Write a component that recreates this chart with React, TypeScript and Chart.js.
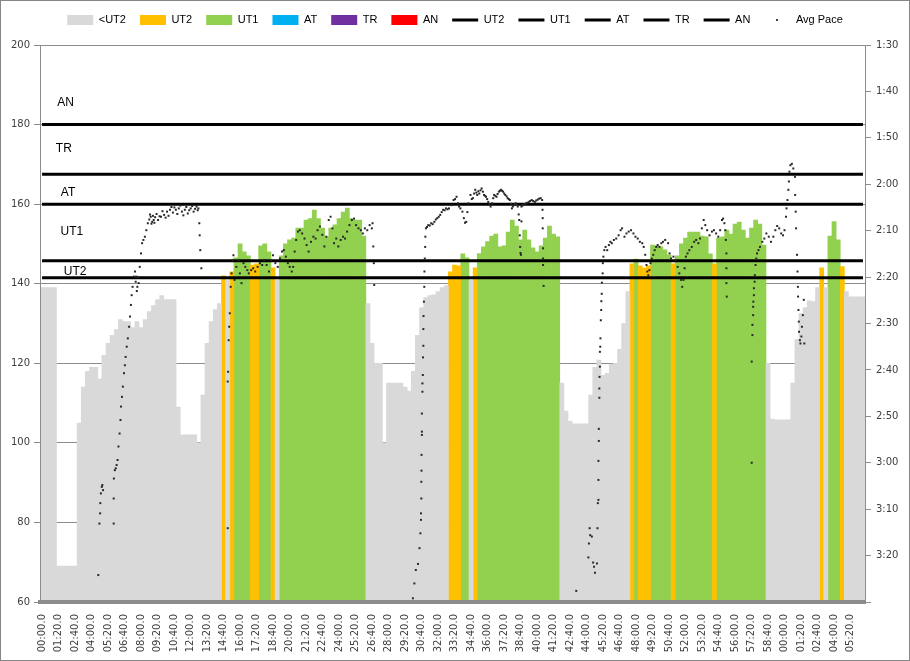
import React, { useEffect, useRef } from 'react';
import { Chart, registerables } from 'chart.js';

Chart.register(...registerables);

// ---------- data ----------
const timeLabels = ['00:00.0','01:20.0','02:40.0','04:00.0','05:20.0','06:40.0','08:00.0','09:20.0','10:40.0','12:00.0','13:20.0','14:40.0','16:00.0','17:20.0','18:40.0','20:00.0','21:20.0','22:40.0','24:00.0','25:20.0','26:40.0','28:00.0','29:20.0','30:40.0','32:00.0','33:20.0','34:40.0','36:00.0','37:20.0','38:40.0','40:00.0','41:20.0','42:40.0','44:00.0','45:20.0','46:40.0','48:00.0','49:20.0','50:40.0','52:00.0','53:20.0','54:40.0','56:00.0','57:20.0','58:40.0','00:00.0','01:20.0','02:40.0','04:00.0','05:20.0'];

const SAMPLES_PER_LABEL = 4;
const SAMPLE_SECONDS = 20;

// heart rate, one sample every 20 s
const heartRate = [
  139,139,139,139,69,69,69,69,69,105,
  114,118,119,119,116,122,125,127,128.5,131,
  130.5,130.5,129,130.5,129,131,133,134.5,136,137,
  136,136,136,109,102,102,102,102,100,112,
  125,130.5,133.5,135,142,141,143,146.5,150,148,
  147,144.7,145,149.5,150,148,144,141,147,150,
  151,151.5,154,154,156,156.4,158.5,156.4,154,151.8,
  154,154.8,156.4,158,159,156.4,156,156,152,135,
  125,120,120,100,115,115,115,115,114,113,
  118,127,134,136.5,137,137.2,138,139,139.5,143,
  144.7,144.5,147.5,146.5,141,144,147.6,149.3,150.6,152,
  152.5,149.3,149.5,153,156,154.5,151,153.5,151,149,
  148,149.5,151.5,154.5,152.5,151.8,115,108,105.5,104.8,
  104.8,104.8,104.8,112,119,120.8,117,117.5,119.8,120,
  123.5,130,138,145,146.2,144.5,143.9,144.5,149.7,149.5,
  149.3,148.5,147.2,145,147,150,151.5,153,153,153,
  152,151.8,147.5,145,151.5,151.8,153.5,152.5,155,155.5,
  153.5,151.5,154,156,155,149.7,120,106,105.8,105.8,
  105.8,105.8,115,126,132.5,134,135.7,135.5,139,144,
  139,152,155.6,151,144.3,138,136.7,136.7,136.7,136.7
];

const zoneNames = ['<UT2','UT2','UT1','AT','TR','AN'];
const zoneColors = ['#d9d9d9','#ffc000','#92d050','#00b0f0','#7030a0','#ff0000'];
const zoneLowerBounds = [0, 141.5, 145.8, 160, 167.5, 180];

const thresholdNames = ['UT2','UT1','AT','TR','AN'];
const thresholdValues = [141.5, 145.8, 160, 167.5, 180];

const zoneLabelTexts = ['AN','TR','AT','UT1','UT2'];
const zoneLabelValues = [185.6, 174.0, 163.0, 153.1, 142.9];
const zoneLabelOffsets = [25.5, 23.8, 28, 31.8, 35.2];

// average pace samples: [elapsed seconds, pace in seconds per 500 m]
const avgPace = [
  [58,204.2],[64,193.1],[68,190.9],[69,188.7],[72,186.6],[77,185.2],[80,184.8],[84,185.9],
  [142,193.1],[142,187.7],[143,183.4],[148,181.6],[153,181.2],[158,180.5],[163,179.4],[168,176.5],[174,173.7],[179,170.8],[182,167.9],[187,165.8],[192,163.6],[198,160.7],[203,159],[207,157.2],[213,155],[219,153.2],[226,150.7],[231,148.5],[236,146],[240,143.9],[245,142.1],[252,139.9],[258,138.8],[262,141],[265,139.9],[268,143],[271,142.1],[275,140],[278,141.3],[284,137.8],[291,134.9],[297,132.7],[304,132],[312,131.3],[320,129.9],[328,128.4],[336,127.6],[340,126.5],[344,127],[348,128.5],[352,128.1],[356,126.8],[360,127.7],[364,128.3],[368,127.1],[376,126.4],[384,127.7],[392,126.9],[400,127],[408,125.8],[417,126.6],[425,127.2],[433,125.9],[441,126.8],[449,125.5],[457,124.9],[465,126.1],[473,125],[481,125.5],[489,126.4],[497,125.2],[505,124.6],[514,125.9],[522,126.7],[530,125.5],[538,124.9],[546,126.3],[554,125.6],[562,125.2],[570,124.7],[578,125.9],[586,125.3],[594,124.8],[600,125.6],[604,125.2],[609,128.4],[611,131],[614,134.2],[620,138.1],
  [764,194.1],[764,162.5],[766,160.4],[769,153.6],[772,150.7],[775,147.8],[780,142.1],[785,139.2],[790,136.3],[795,135.3],[801,140.6],[811,137.8],[822,136.3],[830,139.2],[839,141.3],[850,137],[860,137.8],[871,138.5],[879,139.2],[892,138.5],[903,138.1],[914,138.8],[927,137.8],[940,137],[952,137.4],[963,136.3],[976,137.4],[989,138.8],[1000,136.3],[1011,135.3],[1024,137],[1037,137.8],[1049,136],[1060,134.5],[1070,134.2],[1081,135.6],[1092,137],[1102,137.8],[1113,138.8],[1121,137.8],[1129,134.5],[1137,132],[1147,130.2],[1157,129.9],[1170,130.6],[1183,131.7],[1194,133.1],[1205,134.5],[1218,132.4],[1231,131.3],[1243,131.7],[1254,129.9],[1267,129.1],[1280,130.9],[1291,133.4],[1302,131.3],[1315,127.7],[1325,127],[1335,129.5],[1344,132.7],[1356,131.7],[1367,133.4],[1380,132],[1393,131.3],[1404,131.7],[1415,130.2],[1428,128.8],[1441,127.7],[1453,127.4],[1464,128.8],[1477,129.5],[1490,129.9],[1501,130.6],[1512,129.5],[1525,129.9],[1538,128.8],[1550,129.5],[1554,128.4],[1558,133.4],[1561,137],[1563,141.7],
  [1774,209.2],[1782,206],[1790,203.1],[1802,201.8],[1810,198.4],[1815,195.2],[1818,192.3],[1818,190.9],[1820,187.7],[1820,184.1],[1821,181.7],[1821,178.3],[1823,174],[1823,173.3],[1823,169.4],[1826,164.7],[1826,162.9],[1828,161.1],[1829,157.3],[1831,154.8],[1831,151.2],[1832,148.4],[1834,145.3],[1836,142.1],[1837,138.8],[1839,136],[1841,133.5],[1842,131.3],[1845,129.5],[1851,129.2],[1858,128.8],[1866,128.9],[1874,128.4],[1882,128.6],[1891,128.1],[1899,127.6],[1907,127.3],[1915,127],[1923,126.6],[1931,126],[1939,125.5],[1947,125.6],[1955,125.2],[1963,125.4],[1971,125.2],[1984,124.5],[1996,123.4],[2004,123.2],[2012,122.7],[2020,124.1],[2026,124.8],[2033,125.2],[2044,125.9],[2052,127.3],[2058,128.3],[2065,128.1],[2071,126],[2077,124.1],[2088,122.3],[2095,123.2],[2101,123],[2108,122],[2114,121.2],[2120,121.8],[2125,122.3],[2131,121.5],[2136,122],[2143,121.3],[2149,120.9],[2156,121.6],[2162,122.3],[2168,122.5],[2173,122.7],[2179,123.2],[2185,123.8],[2192,124.3],[2198,124.8],[2206,124.1],[2212,123],[2217,122.3],[2224,122.5],[2230,122.7],[2236,122.1],[2243,121.6],[2249,121.4],[2254,121.2],[2260,121.4],[2266,121.6],[2272,122],[2278,122.3],[2285,122.6],[2291,123],[2297,123.2],[2303,123.4],[2309,124.2],[2314,125.2],[2319,124.8],[2324,124.5],[2330,124.3],[2335,124.1],[2340,124.4],[2346,124.8],[2351,126.5],[2354,127.7],[2357,131],[2359,133.5],[2361,134.8],[2363,135.2],
  [2366,124.8],[2366,128],[2370,124.6],[2374,124.5],[2382,124.3],[2390,124.1],[2398,124],[2406,123.8],[2414,123.6],[2422,123.4],[2430,123.6],[2439,123.8],[2447,123.5],[2455,123.3],[2463,123.1],[2471,123],[2479,123.4],[2481,125.5],[2482,127.3],[2482,129.5],[2484,133.8],[2484,136],[2484,137.4],[2487,141.9],
  [2665,207.6],
  [2731,200.4],[2734,197.4],[2738,194.1],[2741,195.6],[2750,195.9],[2757,201.5],[2762,202.4],[2767,203.7],[2778,201.7],[2781,194.1],[2783,188.7],[2786,188],[2786,183.7],[2786,179.6],[2788,175.3],[2788,172.7],[2791,166],[2791,164],[2792,161.5],[2794,159.3],[2794,156.1],[2796,155],[2797,153.2],[2799,149.3],[2801,147.1],[2802,145.2],[2804,143.6],[2805,141.2],[2809,139.2],[2810,137],[2813,135.6],[2818,134.2],[2825,133.5],[2834,134.2],[2843,133.1],[2851,132.4],[2859,132.7],[2870,132],[2883,131.7],[2896,131],[2907,129.9],[2915,129.5],[2928,131.3],[2939,130.6],[2951,130.2],[2964,129.9],[2977,130.6],[2988,131.3],[3000,131.7],[3012,132.4],[3025,132.7],[3033,133.5],[3041,135.2],[3048,137.4],[3053,138.8],[3058,139.6],[3064,138.5],[3070,137],[3077,136],[3085,135.2],[3093,134.2],[3101,133.5],[3109,133.1],[3119,133.5],[3129,132.7],[3138,132.4],[3150,132],
  [3166,132.7],[3174,134.9],[3182,136],[3195,135.6],[3206,136.3],[3218,137.8],[3227,139.2],[3237,140.6],[3243,142.1],[3250,140.6],[3256,138.1],[3263,135.6],[3272,134.9],[3282,134.2],[3295,133.5],[3308,132.4],[3319,132],[3331,132.7],[3340,131.7],[3350,129.5],[3360,127.7],[3369,128.8],[3379,129.9],[3392,131],[3405,130.2],[3416,129.9],[3428,130.6],[3440,131.3],[3450,129.9],[3460,127.7],[3466,127.4],[3473,128.4],[3478,129.9],[3481,132],[3484,134.9],[3484,138.1],[3484,141.3],[3486,144.2],
  [3622,180],[3622,158.2],[3626,152.5],[3626,150.3],[3630,148.2],[3630,146.4],[3631,145.3],[3634,143.9],[3634,142.4],[3638,141],[3639,139.6],[3643,137.4],[3647,136],[3651,134.9],[3659,134.2],[3667,133.5],[3680,132.4],[3691,131.7],[3702,130.6],[3715,131.3],[3727,132.4],[3740,131.3],[3751,129.9],[3761,129],[3772,129.5],[3783,130.6],[3793,131],[3801,129.9],[3809,127],[3812,125.2],[3817,123.4],[3822,121.2],[3825,119.4],[3828,117.3],[3833,115.9],[3841,115.6],[3849,116.6],[3858,118.4],[3859,122.3],[3862,125.9],[3864,129.5],[3869,135.2],[3872,138.8],[3874,142.1],[3875,144.2],[3877,147.1],[3879,149.6],[3880,151.8],[3885,153.6],[3888,154.3],[3893,152.8],[3896,150.7],[3901,148.2],[3906,144.9],[3909,154.3]
];

const hrTicks = { min: 60, max: 200, step: 20 };
const paceTicks = { min: 90, max: 210, step: 10 };

// ---------- helpers ----------
const zoneOf = (v: number) => {
  let z = 0;
  for (let k = 1; k < zoneLowerBounds.length; k++) if (v >= zoneLowerBounds[k]) z = k;
  return z;
};
const fmtPace = (v: number) => {
  const m = Math.floor(v / 60);
  const s = Math.round(v - m * 60);
  return `${m}:${String(s).padStart(2, '0')}`;
};

const FONT_AXIS = { family: 'DejaVu Sans', size: 10 };
const AXIS_COLOR = '#404040';
const LINE_GRAY = '#8c8c8c';

const legendSpacer = {
  id: 'legendSpacer',
  beforeInit(chart: any) {
    const legend = chart.legend;
    if (!legend) return;
    const fit = legend.fit;
    legend.fit = function () {
      fit.call(this);
      this.height += 9.5;
    };
  },
};

const zoneLabelPlugin = {
  id: 'zoneLabels',
  afterDatasetsDraw(chart: any) {
    const { ctx, chartArea, scales } = chart;
    ctx.save();
    ctx.font = '12px "Liberation Sans", Arial, sans-serif';
    ctx.fillStyle = '#000';
    ctx.textAlign = 'center';
    ctx.textBaseline = 'middle';
    zoneLabelTexts.forEach((t, i) => {
      ctx.fillText(t, chartArea.left + zoneLabelOffsets[i], scales.y.getPixelForValue(zoneLabelValues[i]));
    });
    ctx.restore();
  },
};

const framePlugin = {
  id: 'frame',
  afterDraw(chart: any) {
    const { ctx, width, height } = chart;
    ctx.save();
    ctx.strokeStyle = '#868686';
    ctx.lineWidth = 1;
    ctx.strokeRect(0.5, 0.5, width - 1, height - 1);
    ctx.restore();
  },
};

export default function App() {
  const ref = useRef<HTMLCanvasElement | null>(null);

  useEffect(() => {
    document.body.style.margin = '0';
    const canvas = ref.current;
    if (!canvas) return;

    const categories = heartRate.map((_, i) =>
      i % SAMPLES_PER_LABEL === 0 ? timeLabels[i / SAMPLES_PER_LABEL] ?? '' : ''
    );

    const dot = document.createElement('canvas');
    dot.width = 2;
    dot.height = 2;
    const dctx = dot.getContext('2d');
    if (dctx) {
      dctx.fillStyle = '#404040';
      dctx.fillRect(0, 0, 2, 2);
    }

    const zoneDatasets = zoneNames.map((name, z) => ({
      type: 'bar' as const,
      label: name,
      data: heartRate.map((v) => (zoneOf(v) === z ? v : null)),
      backgroundColor: zoneColors[z],
      borderWidth: 0,
      grouped: false,
      barPercentage: 1,
      categoryPercentage: 1,
      xAxisID: 'x',
      yAxisID: 'y',
      order: 3,
    }));

    const thresholdDatasets = thresholdNames.map((name, k) => ({
      type: 'line' as const,
      label: name,
      data: categories.map(() => thresholdValues[k]),
      borderColor: '#000',
      backgroundColor: '#000',
      borderWidth: 3,
      pointRadius: 0,
      fill: false,
      tension: 0,
      xAxisID: 'x',
      yAxisID: 'y',
      order: 2,
    }));

    const paceDataset = {
      type: 'scatter' as const,
      label: 'Avg Pace',
      data: avgPace.map(([t, p]) => ({ x: t, y: p })),
      backgroundColor: '#262626',
      borderWidth: 0,
      pointStyle: 'rect',
      pointRadius: 1.4,
      showLine: false,
      xAxisID: 'xt',
      yAxisID: 'yp',
      order: 1,
    };

    const datasets: any[] = [...zoneDatasets, ...thresholdDatasets, paceDataset];
    const half = SAMPLE_SECONDS / 2;

    const chart = new Chart(canvas, {
      type: 'bar',
      data: { labels: categories, datasets },
      options: {
        animation: false,
        responsive: false,
        events: [],
        layout: { padding: { top: 0.5, left: 0, right: 0, bottom: 0 } },
        plugins: {
          tooltip: { enabled: false },
          legend: {
            display: true,
            position: 'top',
            align: 'center',
            labels: {
              usePointStyle: true,
              pointStyleWidth: 26,
              boxWidth: 26,
              boxHeight: 10,
              padding: 14,
              color: '#333',
              font: { family: 'Liberation Sans', size: 11 },
              generateLabels: (c: any) =>
                c.data.datasets.map((ds: any, i: number) => {
                  if (ds.type === 'bar') {
                    return { text: ds.label, fillStyle: ds.backgroundColor, strokeStyle: ds.backgroundColor, lineWidth: 0, pointStyle: 'rect', hidden: false, datasetIndex: i };
                  }
                  if (ds.type === 'line') {
                    return { text: ds.label, fillStyle: '#000', strokeStyle: '#000', lineWidth: 3, pointStyle: 'line', hidden: false, datasetIndex: i };
                  }
                  return { text: ds.label, fillStyle: '#404040', strokeStyle: '#404040', lineWidth: 0, pointStyle: dot, hidden: false, datasetIndex: i };
                }),
            },
          },
        },
        scales: {
          x: {
            type: 'category',
            position: 'bottom',
            offset: true,
            grid: { display: false },
            border: { display: true, color: LINE_GRAY, width: 4, z: 1 },
            ticks: {
              autoSkip: false,
              maxRotation: 90,
              minRotation: 90,
              padding: 4,
              color: AXIS_COLOR,
              font: FONT_AXIS,
            },
            afterFit: (s: any) => { s.height = 59; },
          },
          xt: {
            type: 'linear',
            display: false,
            min: -half,
            max: heartRate.length * SAMPLE_SECONDS - half,
          },
          y: {
            type: 'linear',
            position: 'left',
            min: hrTicks.min,
            max: hrTicks.max,
            ticks: { stepSize: hrTicks.step, padding: 4, color: AXIS_COLOR, font: FONT_AXIS },
            grid: { color: LINE_GRAY, lineWidth: 1, tickLength: 6, drawTicks: true },
            border: { display: true, color: LINE_GRAY, width: 1, z: 1 },
            afterFit: (s: any) => { s.width = 40; },
          },
          yp: {
            type: 'linear',
            position: 'right',
            reverse: true,
            min: paceTicks.min,
            max: paceTicks.max,
            ticks: {
              stepSize: paceTicks.step,
              padding: 5,
              color: AXIS_COLOR,
              font: FONT_AXIS,
              callback: (v: any) => (Number(v) >= paceTicks.max ? '' : fmtPace(Number(v))),
            },
            grid: { drawOnChartArea: false, color: LINE_GRAY, tickLength: 6, drawTicks: true },
            border: { display: true, color: LINE_GRAY, width: 1, z: 1 },
            afterFit: (s: any) => { s.width = 45; },
          },
        },
      } as any,
      plugins: [legendSpacer, zoneLabelPlugin, framePlugin],
    });

    return () => chart.destroy();
  }, []);

  return (
    <canvas
      ref={ref}
      width={910}
      height={661}
      style={{ display: 'block', width: 910, height: 661 }}
    />
  );
}
